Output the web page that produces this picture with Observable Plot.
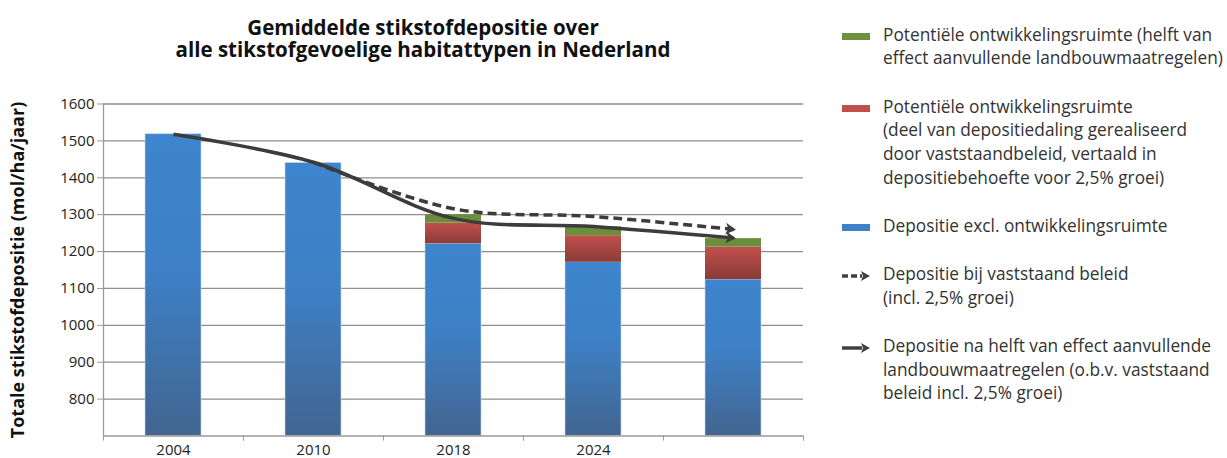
<!DOCTYPE html>
<html><head><meta charset="utf-8">
<script src="https://cdn.jsdelivr.net/npm/d3@7"></script>
<script src="https://cdn.jsdelivr.net/npm/@observablehq/plot@0.6"></script>
<style>
body{margin:0;background:#fff;font-family:"Open Sans",sans-serif;}
#wrap{position:relative;width:1227px;height:458px;overflow:hidden;background:#fff;}
#title{position:absolute;left:0;top:15.5px;width:846px;text-align:center;font-weight:700;font-size:20.5px;color:#111;}
#title div{height:22.5px;line-height:22.5px;white-space:nowrap;}
#chart{position:absolute;left:0;top:80px;}
#chart svg{overflow:visible !important;}
#legend{position:absolute;left:842px;top:22.65px;}
.item{position:relative;margin-bottom:24.5px;}
.item .txt{margin-left:41px;font-size:17.3px;line-height:23.7px;color:#333;white-space:nowrap;}
.item svg{position:absolute;left:0;}
</style></head><body>
<div id="wrap">
<div id="title"><div>Gemiddelde stikstofdepositie over</div><div>alle stikstofgevoelige habitattypen in Nederland</div></div>
<div id="chart"></div>
<div id="legend"></div>
</div>
<script>
// ---- data ----
const categories = ["2004", "2010", "2018", "2024", "2030"];
const tickLabels = ["2004", "2010", "2018", "2024", ""];
const depositie = [1518, 1440, 1221, 1171, 1124];          // blauw
const ruimteBeleid = [0, 0, 56, 72, 88];                   // rood
const ruimteLandbouw = [0, 0, 23, 24, 23];                 // groen
const lijnBeleid = [null, 1442, 1316, 1295, 1260];         // gestippeld
const lijnLandbouw = [1518, 1442, 1290, 1268, 1237];       // doorgetrokken
const yTicks = [800, 900, 1000, 1100, 1200, 1300, 1400, 1500, 1600];
const yDomain = [700, 1600];
const yLabel = "Totale stikstofdepositie (mol/ha/jaar)";
const legendItems = [
  {type: "rect", color: "#6e9140", lines: ["Potentiële ontwikkelingsruimte (helft van", "effect aanvullende landbouwmaatregelen)"]},
  {type: "rect", color: "#c0504d", lines: ["Potentiële ontwikkelingsruimte", "(deel van depositiedaling gerealiseerd", "door vaststaandbeleid, vertaald in", "depositiebehoefte voor 2,5% groei)"]},
  {type: "rect", color: "#3f80c8", lines: ["Depositie excl. ontwikkelingsruimte"]},
  {type: "dash", color: "#404040", lines: ["Depositie bij vaststaand beleid", "(incl. 2,5% groei)"]},
  {type: "solid", color: "#404040", lines: ["Depositie na helft van effect aanvullende", "landbouwmaatregelen (o.b.v. vaststaand", "beleid incl. 2,5% groei)"]}
];

// ---- derived tables ----
const rows = categories.map((c, i) => ({
  cat: c,
  base: yDomain[0],
  blue: depositie[i],
  red: depositie[i] + ruimteBeleid[i],
  green: depositie[i] + ruimteBeleid[i] + ruimteLandbouw[i],
  hasRuimte: ruimteBeleid[i] > 0
}));
const stackRows = rows.filter(d => d.hasRuimte);
const dashRows = categories.map((c, i) => ({cat: c, v: lijnBeleid[i]})).filter(d => d.v != null);
const solidRows = categories.map((c, i) => ({cat: c, v: lijnLandbouw[i]}));

const axisColor = "#9a9a9a";
const gridColor = "#8e8e8e";
const lineColor = "#3c3c3c";

// filled arrowhead marker
function filledArrow(color, context) {
  const m = document.createElementNS("http://www.w3.org/2000/svg", "marker");
  m.setAttribute("viewBox", "-9 -7 12 14");
  m.setAttribute("markerWidth", 12);
  m.setAttribute("markerHeight", 14);
  m.setAttribute("markerUnits", "userSpaceOnUse");
  m.setAttribute("orient", "auto");
  m.setAttribute("refX", 0);
  m.setAttribute("refY", 0);
  const p = document.createElementNS("http://www.w3.org/2000/svg", "path");
  p.setAttribute("d", "M-8,-6 L2.5,0 L-8,6 L-5,0 Z");
  p.setAttribute("fill", color);
  p.setAttribute("stroke", "none");
  m.appendChild(p);
  return m;
}

function build(marker) {
  return Plot.plot({
    width: 830,
    height: 378,
    marginTop: 23.5,
    marginBottom: 22.5,
    marginLeft: 103,
    marginRight: 27,
    style: {fontFamily: "Open Sans, sans-serif", fontSize: "15px", color: "#222", background: "transparent", overflow: "visible"},
    x: {domain: categories, paddingInner: 0.6, paddingOuter: 0.3, axis: null},
    y: {domain: yDomain, axis: null},
    marks: [
      Plot.gridY(yTicks, {stroke: gridColor, strokeOpacity: 1, strokeWidth: 1.3}),
      Plot.barY(rows, {x: "cat", y1: "base", y2: "blue", fill: "url(#gBlue)", stroke: "#c9d8ea", strokeWidth: 0.6}),
      Plot.barY(stackRows, {x: "cat", y1: "blue", y2: "red", fill: "url(#gRed)"}),
      Plot.barY(stackRows, {x: "cat", y1: "red", y2: "green", fill: "#6b8e3d"}),
      Plot.ruleY([yDomain[0]], {stroke: axisColor, strokeWidth: 1.3}),
      Plot.ruleX([categories[0]], {x: d => d, dx: -70, y1: yDomain[0], y2: yDomain[1], stroke: axisColor, strokeWidth: 1.3}),
      // boundary ticks below the x axis (about 5px, expressed in axis units)
      Plot.ruleX(categories, {x: d => d, dx: -70, y1: yDomain[0], y2: yDomain[0] - 14, stroke: axisColor}),
      Plot.ruleX([categories[categories.length - 1]], {x: d => d, dx: 70, y1: yDomain[0], y2: yDomain[0] - 14, stroke: axisColor}),
      Plot.axisY(yTicks, {tickSize: 6, tickPadding: 3, tickFormat: d => String(d), stroke: axisColor, fill: "#222", label: null, fontSize: 15}),
      Plot.axisX({tickSize: 0, tickPadding: 8, tickFormat: d => tickLabels[categories.indexOf(d)], label: null, fill: "#222", fontSize: 15}),
      Plot.line(dashRows, {x: "cat", y: "v", curve: "catmull-rom", stroke: lineColor, strokeWidth: 3.5, strokeLinecap: "butt", strokeDasharray: "9,5", markerEnd: marker}),
      Plot.line(solidRows, {x: "cat", y: "v", curve: "catmull-rom", stroke: lineColor, strokeWidth: 3.5, strokeLinecap: "butt", markerEnd: marker}),
      Plot.text([yLabel], {text: d => d, frameAnchor: "left", textAnchor: "middle", dx: -85, rotate: -90, fontSize: 18, fontWeight: "bold", fill: "#111"})
    ]
  });
}

let plot;
try { plot = build(filledArrow); } catch (e) { plot = build("arrow"); }

const defs = d3.select(plot).insert("defs", ":first-child");
const gb = defs.append("linearGradient").attr("id", "gBlue").attr("x1", 0).attr("y1", 0).attr("x2", 0).attr("y2", 1);
gb.append("stop").attr("offset", "0%").attr("stop-color", "#3d85cd");
gb.append("stop").attr("offset", "45%").attr("stop-color", "#3d80c6");
gb.append("stop").attr("offset", "100%").attr("stop-color", "#426590");
const gr = defs.append("linearGradient").attr("id", "gRed").attr("x1", 0).attr("y1", 0).attr("x2", 0).attr("y2", 1);
gr.append("stop").attr("offset", "0%").attr("stop-color", "#c1504c");
gr.append("stop").attr("offset", "100%").attr("stop-color", "#8b3b37");

document.getElementById("chart").appendChild(plot);

// ---- legend ----
const legend = d3.select("#legend");
for (const it of legendItems) {
  const item = legend.append("div").attr("class", "item");
  if (it.type === "rect") {
    const s = item.append("svg").attr("width", 28).attr("height", 7).style("top", "10.4px");
    s.append("rect").attr("width", 28).attr("height", 7).attr("fill", it.color);
  } else {
    const s = item.append("svg").attr("width", 28).attr("height", 12).style("top", "7.9px");
    if (it.type === "dash") {
      s.append("line").attr("x1", 0).attr("x2", 20).attr("y1", 6).attr("y2", 6)
        .attr("stroke", it.color).attr("stroke-width", 3.5).attr("stroke-dasharray", "6,3");
    } else {
      s.append("line").attr("x1", 0).attr("x2", 20).attr("y1", 6).attr("y2", 6)
        .attr("stroke", it.color).attr("stroke-width", 3.5);
    }
    s.append("path").attr("d", "M19,1 L28,6 L19,11 L21,6 Z").attr("fill", it.color);
  }
  item.append("div").attr("class", "txt").html(it.lines.join("<br>"));
}
</script>
</body></html>
